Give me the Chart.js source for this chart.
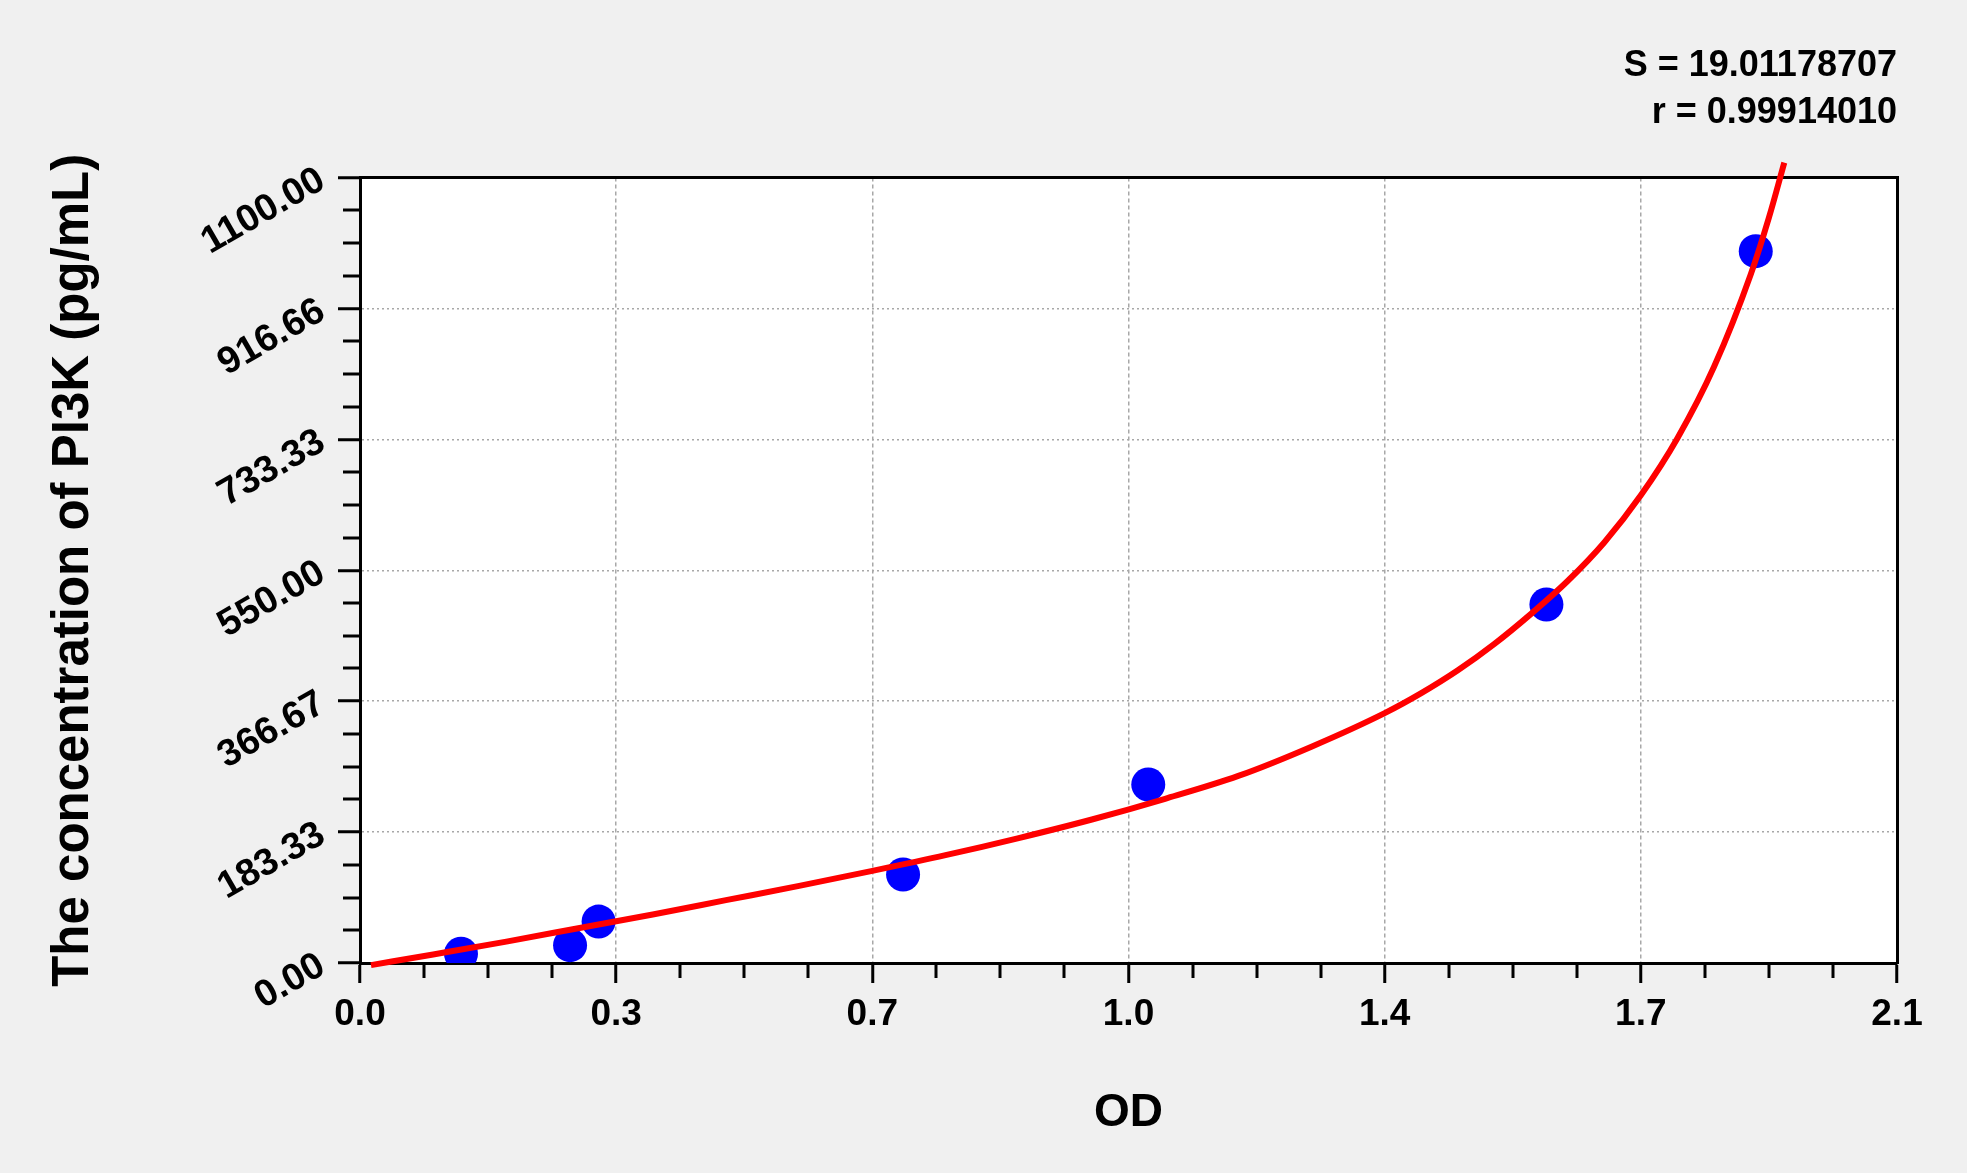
<!DOCTYPE html>
<html>
<head>
<meta charset="utf-8">
<script src="https://cdn.jsdelivr.net/npm/chart.js@4.4.1/dist/chart.umd.min.js"></script>
<style>
  html, body { margin: 0; padding: 0; background: #f0f0f0; }
  canvas { display: block; }
</style>
</head>
<body>
<canvas id="courbe" width="1967" height="1173"></canvas>
<script>
// Standards : DO mesurée (x) et concentration en pg/mL (y)
const odStandards = [0.138, 0.287, 0.326, 0.742, 1.077, 1.621, 1.907];
const concStandards = [13, 25, 58, 124, 250, 502, 997];

// Courbe ajustée
const odCurve = [0.015, 0.1, 0.2, 0.3, 0.4, 0.5, 0.6, 0.7, 0.8, 0.9, 1.0, 1.1, 1.2, 1.3, 1.4,
                 1.45, 1.5, 1.55, 1.6, 1.65, 1.7, 1.75, 1.8, 1.85, 1.9, 1.925, 1.946];
const concCurve = [-3, 12, 30, 49, 68, 88, 108, 129, 151, 175, 201, 230, 262, 303, 350,
                   378, 410, 447, 489, 535, 589, 655, 735, 835, 964, 1044, 1121];

// Graduations
const xTickLabels = ['0.0', '0.3', '0.7', '1.0', '1.4', '1.7', '2.1'];
const yTickLabels = ['0.00', '183.33', '366.67', '550.00', '733.33', '916.66', '1100.00'];
const statsLines = ['S = 19.01178707', 'r = 0.99914010'];

const xMax = 2.1;
const yMax = 1100;
const sub = 4; // 3 petites graduations entre deux grandes

const police = 'Liberation Sans, Arial, sans-serif';
Chart.defaults.font.family = police;
Chart.defaults.color = '#000';

// grandes + petites graduations
function graduations(max, nMajor) {
    const n = nMajor * sub;
    return Array.from({ length: n + 1 }, (_, i) => ({ value: max * i / n }));
}

const estMajeure = c => c.index % sub === 0;

// fond gris + zone de tracé blanche
const fond = {
    id: 'fond',
    beforeDraw(chart) {
        const { ctx, chartArea: a } = chart;
        ctx.save();
        ctx.fillStyle = '#f0f0f0';
        ctx.fillRect(0, 0, chart.width, chart.height);
        ctx.fillStyle = '#ffffff';
        ctx.fillRect(a.left, a.top, a.right - a.left, a.bottom - a.top);
        ctx.restore();
    }
};

new Chart(document.getElementById('courbe'), {
    type: 'scatter',
    data: {
        datasets: [
            {
                label: 'Courbe',
                data: odCurve.map((x, i) => ({ x, y: concCurve[i] })),
                showLine: true,
                borderColor: '#ff0000',
                borderWidth: 6,
                pointRadius: 0,
                cubicInterpolationMode: 'monotone',
                clip: false
            },
            {
                label: 'Standards',
                data: odStandards.map((x, i) => ({ x, y: concStandards[i] })),
                backgroundColor: '#0000ff',
                borderColor: '#0000ff',
                borderWidth: 0,
                pointRadius: 17,
                pointHoverRadius: 17
            }
        ]
    },
    options: {
        responsive: false,
        devicePixelRatio: 1,
        animation: false,
        layout: { padding: { left: 0, right: 70, top: 0, bottom: 0 } },
        plugins: {
            legend: { display: false },
            tooltip: { enabled: false },
            title: {
                display: true,
                text: statsLines,
                align: 'end',
                color: '#000',
                font: { size: 36, weight: 'bold', lineHeight: 1.3 },
                padding: { top: 43, bottom: 41 }
            }
        },
        scales: {
            x: {
                type: 'linear',
                position: 'bottom',
                min: 0,
                max: xMax,
                afterBuildTicks: s => { s.ticks = graduations(xMax, xTickLabels.length - 1); },
                afterFit: s => { s.height = 210; },
                ticks: {
                    autoSkip: false,
                    minRotation: 0,
                    maxRotation: 0,
                    padding: 10,
                    font: { size: 37, weight: 'bold' },
                    callback: (v, i) => i % sub === 0 ? xTickLabels[i / sub] : ''
                },
                grid: {
                    color: c => estMajeure(c) ? '#a8a8a8' : 'rgba(0,0,0,0)',
                    lineWidth: c => estMajeure(c) ? 1.5 : 0,
                    tickColor: '#000',
                    tickWidth: 3,
                    tickLength: 20,
                    tickBorderDash: c => estMajeure(c) ? [] : [13, 60]
                },
                border: { display: true, color: '#000', width: 3, dash: [4, 3] },
                title: {
                    display: true,
                    text: 'OD',
                    font: { size: 46, weight: 'bold' },
                    padding: { top: 0, bottom: 32 }
                }
            },
            y: {
                type: 'linear',
                position: 'left',
                min: 0,
                max: yMax,
                afterBuildTicks: s => { s.ticks = graduations(yMax, yTickLabels.length - 1); },
                afterFit: s => { s.width = 360; },
                ticks: {
                    autoSkip: false,
                    minRotation: 30,
                    maxRotation: 30,
                    padding: 16,
                    font: { size: 38, weight: 'bold' },
                    callback: (v, i) => i % sub === 0 ? yTickLabels[i / sub] : ''
                },
                grid: {
                    color: c => estMajeure(c) ? '#a8a8a8' : 'rgba(0,0,0,0)',
                    lineWidth: c => estMajeure(c) ? 1.5 : 0,
                    tickColor: '#000',
                    tickWidth: 3,
                    tickLength: 22,
                    tickBorderDash: c => estMajeure(c) ? [] : [0, 5, 60]
                },
                border: { display: true, color: '#000', width: 3, dash: [2, 3] },
                title: {
                    display: true,
                    text: 'The concentration of PI3K (pg/mL)',
                    font: { size: 51, weight: 'bold' },
                    padding: { top: 43, bottom: 0 }
                }
            },
            // cadre haut et droit
            x2: {
                type: 'linear',
                position: 'top',
                min: 0,
                max: 1,
                afterFit: s => { s.height = 0; },
                ticks: { display: false },
                grid: { drawOnChartArea: false, drawTicks: false },
                border: { display: true, color: '#000', width: 3 }
            },
            y2: {
                type: 'linear',
                position: 'right',
                min: 0,
                max: 1,
                afterFit: s => { s.width = 0; },
                ticks: { display: false },
                grid: { drawOnChartArea: false, drawTicks: false },
                border: { display: true, color: '#000', width: 3 }
            }
        }
    },
    plugins: [fond]
});
</script>
</body>
</html>
